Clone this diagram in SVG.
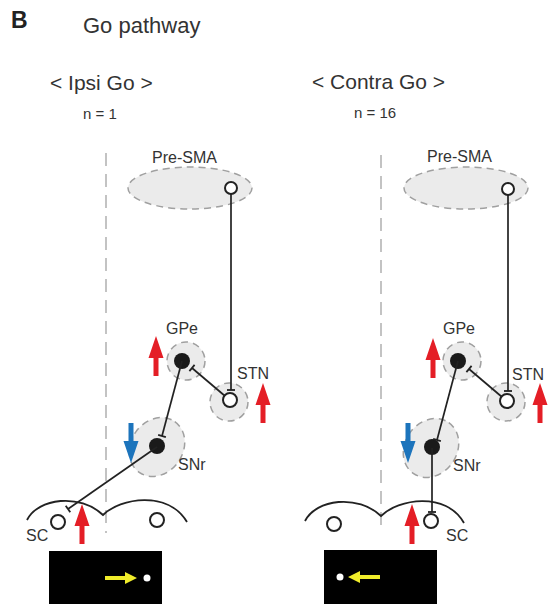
<svg xmlns="http://www.w3.org/2000/svg" width="549" height="604" viewBox="0 0 549 604">
<style>
text{font-family:"Liberation Sans",Arial,sans-serif;fill:#333}
.title{font-size:21px}
.n{font-size:15px}
.lbl{font-size:16px}
.region{fill:#ebebeb;stroke:#a0a0a0;stroke-width:1.5;stroke-dasharray:7 5}
.mid{stroke:#b0b0b0;stroke-width:1.5;stroke-dasharray:13 8;fill:none}
.open{fill:#fff;stroke:#222;stroke-width:2}
.dot{fill:#1a1a1a}
.con{stroke:#222;stroke-width:1.7;fill:none;marker-end:url(#tbar)}
.sc{stroke:#222;stroke-width:1.8;fill:none}
.red{fill:#e41e26}
.blue{fill:#1c74bc}
.yel{fill:#f0ec2a}
</style>
<defs>
<marker id="tbar" markerUnits="userSpaceOnUse" markerWidth="10" markerHeight="10" viewBox="-5 -5 10 10" refX="0" refY="0" orient="auto">
<path d="M0,-4 L0,4" stroke="#222" stroke-width="1.8"/>
</marker>
<path id="arr" d="M0,0 L7.5,22 L2.5,22 L2.5,40 L-2.5,40 L-2.5,22 L-7.5,22 Z"/>
<path id="yarr" d="M0,0 L-12,-6 L-12,-2 L-32,-2 L-32,2 L-12,2 L-12,6 Z"/>
</defs>
<rect width="549" height="604" fill="#fff"/>
<text x="11" y="28" style="font-size:23px;font-weight:bold;fill:#222">B</text>
<text x="83" y="33" style="font-size:22px">Go pathway</text>

<!-- Ipsi panel -->
<g id="header-ipsi">
<text class="title" x="50" y="90">&lt; Ipsi Go &gt;</text>
<text class="n" x="83" y="119">n = 1</text>
</g>
<line class="mid" x1="106" y1="153" x2="106" y2="533"/>

<g id="presma-ipsi">
<text class="lbl" x="152" y="163">Pre-SMA</text>
<ellipse class="region" cx="190" cy="188" rx="62" ry="21"/>
<circle class="open" cx="231" cy="188" r="6"/>
</g>
<g id="gpe-ipsi">
<text class="lbl" x="166" y="334">GPe</text>
<circle class="region" cx="186" cy="361" r="19"/>
<circle class="dot" cx="182" cy="361" r="8"/>
<use href="#arr" class="red" x="156" y="336"/>
</g>
<g id="stn-ipsi">
<text class="lbl" x="237" y="379">STN</text>
<circle class="region" cx="229" cy="402" r="19"/>
<circle class="open" cx="230" cy="400" r="7"/>
<use href="#arr" class="red" x="263" y="383"/>
</g>
<g id="snr-ipsi">
<ellipse class="region" cx="157" cy="447" rx="31" ry="26" transform="rotate(-55 157 447)"/>
<circle class="dot" cx="157" cy="446" r="8"/>
<text class="lbl" x="178" y="470">SNr</text>
<use href="#arr" class="blue" transform="translate(131 463) rotate(180)"/>
</g>
<g id="sc-ipsi">
<path class="sc" d="M27,520 C38,498 80,493 103,515 C120,498 168,490 187,522"/>
<circle class="open" cx="58" cy="522" r="7"/>
<circle class="open" cx="157" cy="520" r="7"/>
<text class="lbl" x="26" y="541">SC</text>
<use href="#arr" class="red" x="82" y="504"/>
</g>
<g id="screen-ipsi">
<rect x="49" y="551" width="113" height="53" fill="#000"/>
<use href="#yarr" class="yel" x="137" y="578"/>
<circle cx="147" cy="578" r="3.5" fill="#fff"/>
</g>

<!-- Contra panel -->
<g id="header-contra">
<text class="title" x="312" y="89">&lt; Contra Go &gt;</text>
<text class="n" x="354" y="118">n = 16</text>
</g>
<line class="mid" x1="381" y1="155" x2="381" y2="533"/>

<g id="presma-contra">
<text class="lbl" x="427" y="162">Pre-SMA</text>
<ellipse class="region" cx="466" cy="188" rx="62" ry="21"/>
<circle class="open" cx="508" cy="189" r="6"/>
</g>
<g id="gpe-contra">
<text class="lbl" x="443" y="334">GPe</text>
<circle class="region" cx="462" cy="361" r="19"/>
<circle class="dot" cx="458" cy="361" r="8"/>
<use href="#arr" class="red" x="433" y="338"/>
</g>
<g id="stn-contra">
<text class="lbl" x="512" y="380">STN</text>
<circle class="region" cx="506" cy="402" r="19"/>
<circle class="open" cx="507" cy="401" r="7"/>
<use href="#arr" class="red" x="540" y="383"/>
</g>
<g id="snr-contra">
<ellipse class="region" cx="431" cy="448" rx="31" ry="26" transform="rotate(-55 431 448)"/>
<circle class="dot" cx="432" cy="447" r="8"/>
<text class="lbl" x="453" y="471">SNr</text>
<use href="#arr" class="blue" transform="translate(408 463) rotate(180)"/>
</g>
<g id="sc-contra">
<path class="sc" d="M305,521 C316,499 358,494 381,516 C398,499 446,491 464,523"/>
<circle class="open" cx="334" cy="524" r="7"/>
<circle class="open" cx="431" cy="521" r="7"/>
<text class="lbl" x="446" y="541">SC</text>
<use href="#arr" class="red" x="412" y="504"/>
</g>
<g id="screen-contra">
<rect x="324" y="550" width="113" height="54" fill="#000"/>
<use href="#yarr" class="yel" transform="translate(348 577) scale(-1 1)"/>
<circle cx="340" cy="577" r="3.5" fill="#fff"/>
</g>

<g id="connectors">
<path class="con" d="M231,194 L231,390"/>
<path class="con" d="M225,396 L192,368"/>
<path class="con" d="M182,361 L162,436"/>
<path class="con" d="M157,447 L68,509"/>
<path class="con" d="M508,195 L508,391"/>
<path class="con" d="M502,397 L469,369"/>
<path class="con" d="M458,361 L437,440"/>
<path class="con" d="M432,448 L432,512"/>
</g>
</svg>
